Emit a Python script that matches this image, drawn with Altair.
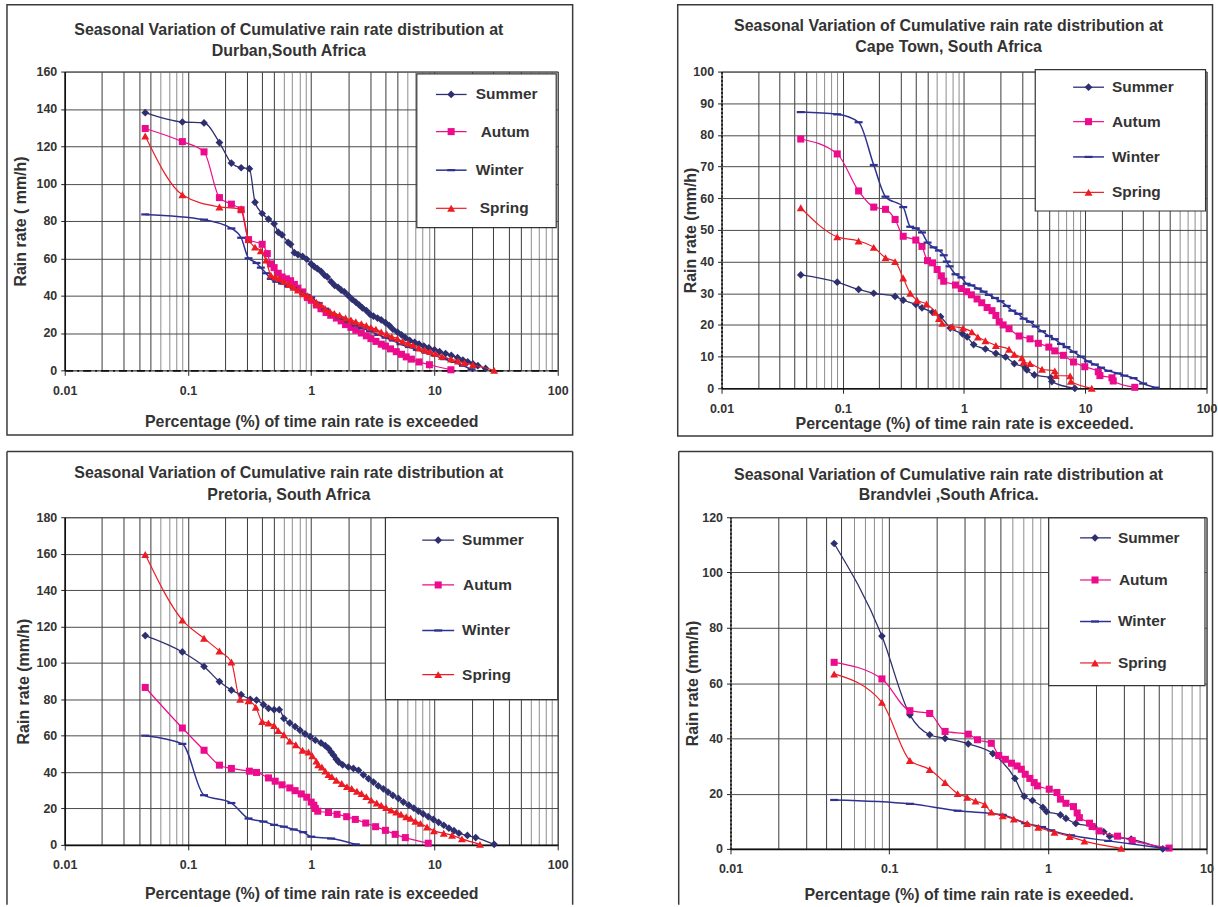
import altair as alt
import pandas as pd

FONT = "Liberation Sans"
TEXT_COLOR = "#333333"

SEASONS = ["Summer", "Autum", "Winter", "Spring"]
COLORS = ["#2E2F6E", "#EC0B8D", "#2E3192", "#ED1C24"]
WINTER_DASH = "M-1,-0.28H1V0.28H-1Z"
SHAPES = ["diamond", "square", WINTER_DASH, "triangle-up"]
SIZES = [60, 50, 64, 64]
LINE_WIDTHS = [1.3, 1.2, 1.5, 1.2]

TITLE_LINE1 = "Seasonal Variation of Cumulative rain rate distribution at"

X_GRID_4DEC = [0.01, 0.02, 0.03, 0.04, 0.05, 0.06, 0.07, 0.08, 0.09,
               0.1, 0.2, 0.3, 0.4, 0.5, 0.6, 0.7, 0.8, 0.9,
               1, 2, 3, 4, 5, 6, 7, 8, 9,
               10, 20, 30, 40, 50, 60, 70, 80, 90, 100]
X_GRID_3DEC = [0.01, 0.02, 0.03, 0.04, 0.05, 0.06, 0.07, 0.08, 0.09,
               0.1, 0.2, 0.3, 0.4, 0.5, 0.6, 0.7, 0.8, 0.9,
               1, 2, 3, 4, 5, 6, 7, 8, 9, 10]
Y_TICKS_DURBAN = [0, 20, 40, 60, 80, 100, 120, 140, 160]
Y_TICKS_CAPE = [0, 10, 20, 30, 40, 50, 60, 70, 80, 90, 100]
Y_TICKS_PRETORIA = [0, 20, 40, 60, 80, 100, 120, 140, 160, 180]
Y_TICKS_BRAND = [0, 20, 40, 60, 80, 100, 120]

# ---------------- Durban ----------------
DURBAN_SUMMER = [(0.045, 138), (0.09, 133), (0.135, 132.5), (0.18, 122), (0.225, 111), (0.27, 108.5),
                 (0.315, 108), (0.35, 90), (0.40, 84), (0.45, 81), (0.50, 78.5), (0.54, 74), (0.58, 72.5),
                 (0.65, 68.5), (0.68, 67.5), (0.73, 63), (0.78, 62), (0.85, 61), (0.92, 59.5), (1.0, 57),
                 (1.06, 55.5), (1.12, 54.5), (1.2, 53), (1.28, 51), (1.35, 50), (1.45, 47.5), (1.55, 45.5),
                 (1.65, 44.5), (1.75, 43), (1.86, 42), (2.0, 40), (2.15, 38), (2.3, 36.5), (2.45, 35),
                 (2.6, 33.5), (2.8, 32), (3.0, 30), (3.2, 29), (3.45, 28), (3.7, 27), (4.0, 25.5), (4.3, 24),
                 (4.6, 22), (5.0, 20.5), (5.4, 19), (5.8, 17.5), (6.3, 16), (6.9, 15), (7.5, 14), (8.2, 13),
                 (9.0, 12), (10, 11), (11, 10), (12.3, 9), (13.7, 8), (15.4, 6.8), (17, 5.5), (18.6, 4.6),
                 (20.5, 3.5), (22.5, 2.5), (26, 1)]
DURBAN_AUTUM = [(0.045, 129.5), (0.09, 122.5), (0.135, 117), (0.18, 92.5), (0.225, 89), (0.27, 86),
                (0.31, 70), (0.40, 67.5), (0.44, 62.5), (0.47, 57), (0.50, 55), (0.54, 52), (0.58, 50),
                (0.63, 49), (0.68, 48), (0.73, 46), (0.78, 44), (0.85, 42), (0.93, 39), (1.0, 37.5),
                (1.1, 35), (1.2, 33), (1.32, 31), (1.44, 29.5), (1.6, 28), (1.75, 26.5), (1.9, 24.5),
                (2.1, 23), (2.3, 21.5), (2.55, 20), (2.8, 18.5), (3.05, 17), (3.35, 15.5), (3.7, 14),
                (4.0, 13), (4.4, 11.5), (4.9, 10), (5.4, 8.6), (5.9, 7.2), (6.5, 6), (7.5, 4.5),
                (9.1, 3), (13.6, 0.3)]
DURBAN_WINTER = [(0.045, 83.5), (0.135, 80.7), (0.225, 76), (0.27, 71), (0.31, 60), (0.36, 57.5),
                 (0.39, 55), (0.43, 52), (0.47, 49), (0.52, 47.5), (0.58, 46.5), (0.65, 45), (0.72, 44),
                 (0.8, 42), (0.9, 40.5), (1.0, 39), (1.15, 36), (1.3, 33), (1.5, 30), (1.7, 28), (2.0, 26),
                 (2.3, 24), (2.6, 22.5), (3.0, 21), (3.5, 19), (4.0, 17.5), (4.6, 16), (5.3, 14),
                 (6.2, 12.5), (7.2, 11), (8.5, 9.5), (10, 8), (12, 6), (14.5, 4.5), (17, 2.5), (20, 0.5)]
DURBAN_SPRING = [(0.045, 125.5), (0.09, 94), (0.18, 87.5), (0.27, 86.5), (0.31, 70), (0.35, 66),
                 (0.39, 64), (0.43, 59), (0.47, 51), (0.51, 50), (0.55, 49), (0.6, 47.5), (0.66, 46),
                 (0.72, 44.5), (0.78, 43), (0.86, 41), (0.93, 40), (1.0, 38.7), (1.1, 36.5), (1.2, 35),
                 (1.3, 33), (1.42, 31.5), (1.54, 30.5), (1.7, 29.5), (1.9, 28), (2.1, 27), (2.3, 26),
                 (2.55, 25), (2.8, 24), (3.05, 23), (3.35, 22), (3.7, 20.5), (4.1, 19.5), (4.5, 18),
                 (5.0, 17), (5.5, 15.5), (6.1, 14.5), (6.7, 13.5), (7.5, 12), (8.3, 11), (9.2, 10),
                 (10.2, 9), (11.5, 7.5), (13.6, 6), (15.5, 5), (17.5, 4), (20.5, 3), (30.5, 0)]

# ---------------- Cape Town ----------------
CAPE_SUMMER = [(0.045, 35.8), (0.09, 33.5), (0.135, 31.2), (0.18, 30), (0.27, 29), (0.315, 27.8),
               (0.4, 26.5), (0.45, 25.4), (0.55, 24), (0.64, 22.6), (0.77, 19), (0.97, 17.2),
               (1.06, 16.2), (1.2, 13.8), (1.5, 12.4), (1.83, 11), (2.2, 9.9), (2.6, 7.8), (3.2, 6.5),
               (3.3, 5.8), (3.8, 4.2), (5.2, 3.3), (5.3, 2.1), (8.2, 0)]
CAPE_AUTUM = [(0.045, 78.7), (0.09, 74), (0.135, 62.3), (0.18, 57.2), (0.225, 56.5), (0.27, 53.3),
              (0.315, 48), (0.4, 46.8), (0.45, 44.8), (0.5, 40.3), (0.55, 39.6), (0.6, 37.5), (0.65, 35.5),
              (0.68, 33.8), (0.85, 32.6), (0.95, 31.5), (1.05, 30.5), (1.15, 29.5), (1.28, 28.2),
              (1.4, 27), (1.55, 25.5), (1.7, 24.5), (1.83, 23), (1.95, 21), (2.1, 20), (2.35, 18.8),
              (2.85, 16.5), (3.5, 15.6), (4.1, 14.2), (5.0, 13), (5.6, 11.8), (6.6, 10.4), (8.0, 8.3),
              (9.9, 6.8), (12.8, 5.2), (13.2, 4), (16.6, 3.3), (17, 2.3), (25.6, 0.3)]
CAPE_WINTER = [(0.045, 87.2), (0.09, 86.5), (0.135, 84), (0.18, 70.5), (0.225, 60.5), (0.315, 57.2),
               (0.36, 51), (0.4, 50.5), (0.45, 49.2), (0.5, 46), (0.56, 44.5), (0.62, 43.5), (0.68, 42),
               (0.72, 40), (0.76, 38.5), (0.85, 36), (0.95, 35), (1.05, 33), (1.15, 32.5), (1.3, 31.5),
               (1.45, 30.5), (1.6, 29.5), (1.8, 28.5), (2.0, 27.5), (2.25, 26), (2.5, 24.5), (2.8, 23.5),
               (3.1, 22), (3.5, 21), (3.9, 19.5), (4.4, 18), (5.0, 16.5), (5.6, 15.5), (6.3, 14),
               (7.0, 13), (8.0, 11.5), (9.2, 10), (10.5, 8.5), (12, 7.5), (13.5, 6.5), (15.5, 5.5),
               (18.5, 4.7), (21, 4), (25, 3.2), (30, 1.5), (38, 0.2)]
CAPE_SPRING = [(0.045, 57), (0.09, 47.8), (0.135, 46.5), (0.18, 44.5), (0.225, 41.2), (0.27, 40),
               (0.315, 34.8), (0.36, 30), (0.41, 27.8), (0.49, 26.6), (0.58, 24), (0.62, 22), (0.66, 20.5),
               (0.8, 19.5), (0.98, 19), (1.16, 17.8), (1.3, 16.2), (1.5, 15), (1.83, 13.5), (2.35, 12.3),
               (2.6, 10.7), (3.0, 9.6), (3.1, 8.3), (3.5, 7.8), (4.4, 6), (5.6, 5.5), (5.7, 4), (7.5, 3.9),
               (7.6, 2.2), (11.3, 0)]

# ---------------- Pretoria ----------------
PRETORIA_SUMMER = [(0.045, 115), (0.09, 106), (0.135, 98), (0.18, 89.7), (0.225, 85), (0.27, 82.5),
                   (0.32, 80), (0.36, 79.5), (0.41, 77), (0.45, 75), (0.5, 74.3), (0.55, 74.3), (0.6, 69.5),
                   (0.67, 67), (0.74, 65), (0.81, 63), (0.89, 61), (0.98, 59.5), (1.08, 57.5), (1.2, 56),
                   (1.3, 54.5), (1.38, 53), (1.45, 51), (1.52, 49.2), (1.6, 47), (1.67, 45.5), (1.8, 44),
                   (2.0, 42.8), (2.2, 42), (2.42, 41), (2.65, 38.5), (2.92, 36.4), (3.2, 34.5), (3.5, 32.4),
                   (3.85, 30.8), (4.2, 29), (4.6, 27.2), (5.1, 25.5), (5.6, 23.5), (6.2, 21.8), (6.8, 20.2),
                   (7.4, 18.6), (8.1, 17), (8.9, 15.5), (9.8, 14), (10.8, 12.4), (11.9, 10.8), (13.1, 9.2),
                   (14.4, 7.8), (15.8, 6.4), (18.5, 5.2), (21.6, 4), (30.5, 0.3)]
PRETORIA_AUTUM = [(0.045, 86.5), (0.09, 64.2), (0.135, 52), (0.18, 43.8), (0.225, 42), (0.315, 40.5),
                  (0.36, 39.8), (0.45, 36.8), (0.51, 35), (0.58, 33), (0.67, 31.3), (0.74, 29.8), (0.83, 28),
                  (0.92, 26.2), (1.0, 23.5), (1.05, 21.8), (1.08, 20), (1.13, 18.5), (1.38, 17.8),
                  (1.62, 16.8), (1.94, 15.5), (2.28, 14), (2.77, 12), (3.33, 10), (4.0, 8), (4.8, 5.8),
                  (5.8, 4), (8.9, 0.9)]
PRETORIA_WINTER = [(0.045, 60), (0.09, 55.5), (0.135, 27.3), (0.225, 23), (0.31, 14.5), (0.41, 12.8),
                   (0.5, 11), (0.6, 10), (0.72, 8.5), (0.86, 7), (1.0, 4.5), (1.45, 3.5), (2.3, 0.3)]
PRETORIA_SPRING = [(0.045, 159.5), (0.09, 123.5), (0.135, 113.5), (0.18, 106.5), (0.225, 100.5),
                   (0.265, 80), (0.31, 79.2), (0.355, 75.6), (0.4, 67.8), (0.45, 67), (0.5, 65.5),
                   (0.54, 62.8), (0.6, 60.5), (0.67, 57), (0.75, 55), (0.85, 52), (0.95, 51), (1.02, 49),
                   (1.1, 46), (1.14, 44), (1.22, 42.8), (1.3, 40.5), (1.38, 38.6), (1.47, 37.5), (1.6, 35.5),
                   (1.77, 33.7), (1.95, 32), (2.13, 31), (2.35, 29.5), (2.56, 28.2), (2.8, 26.5),
                   (3.07, 24.6), (3.4, 23), (3.7, 21.8), (4.05, 20.5), (4.45, 19.1), (4.9, 18), (5.35, 16.8),
                   (5.9, 15.5), (6.4, 14.6), (7.0, 13), (7.7, 11.8), (8.7, 9.8), (9.9, 7.7), (11.9, 6.4),
                   (13.9, 5.3), (16.7, 3.3), (23.4, 0.3)]

# ---------------- Brandvlei ----------------
BRAND_SUMMER = [(0.045, 110.5), (0.09, 77), (0.135, 48.5), (0.18, 41.3), (0.225, 40), (0.315, 38),
                (0.45, 34.5), (0.62, 25.5), (0.71, 19), (0.8, 17.5), (0.93, 15), (0.98, 13.5), (1.2, 12.3),
                (1.3, 11), (1.5, 9.2), (1.95, 8), (2.25, 6.2), (2.45, 4.6), (3.35, 3.5), (5.3, 0)]
BRAND_AUTUM = [(0.045, 67.5), (0.09, 61.5), (0.135, 50), (0.18, 49), (0.225, 42.5), (0.315, 41.5),
               (0.36, 39.5), (0.44, 38.2), (0.49, 33.8), (0.54, 32.4), (0.59, 31), (0.64, 30), (0.68, 28.8),
               (0.72, 27), (0.77, 25.5), (0.82, 24), (0.86, 22.8), (1.02, 21.6), (1.14, 20.4), (1.2, 18),
               (1.3, 16.5), (1.45, 15.3), (1.53, 13), (1.58, 11.3), (1.83, 9.3), (1.9, 8.1), (2.1, 6.5),
               (2.75, 4.6), (3.4, 3), (5.8, 0.3)]
BRAND_WINTER = [(0.045, 17.7), (0.135, 16.3), (0.27, 13.8), (0.52, 12.3), (0.72, 9.3), (0.92, 7.9),
                (1.05, 6.7), (1.4, 4.9), (2.4, 2.9), (5.5, 0.1)]
BRAND_SPRING = [(0.045, 63.3), (0.09, 53), (0.135, 32), (0.18, 28.7), (0.225, 24), (0.27, 20),
                (0.31, 18.7), (0.35, 17.3), (0.4, 16), (0.44, 13.3), (0.52, 12), (0.61, 10.8), (0.74, 9.2),
                (0.87, 7.8), (1.1, 6), (1.37, 4.5), (1.7, 2.8), (2.9, 0.2)]

DECADE_TEST = "abs(log(datum.value)/LN10 - round(log(datum.value)/LN10)) < 0.001"
LIGHT_TEST = "datum.value / pow(10, floor(log(datum.value)/LN10 + 0.000001)) > 5.5"

ONE = pd.DataFrame({"k": [0]})


def text_mark(txt, x, y, size, align="center"):
    return alt.Chart(ONE).mark_text(align=align, baseline="middle", font=FONT, fontSize=size,
                                    fontWeight="bold", color=TEXT_COLOR).encode(
        x=alt.value(x), y=alt.value(y), text=alt.value(txt))


def panel(series, xgrid, xmax, yticks, ymax, width, height, line2, title_pos,
          xtitle, xtitle_pad, ytitle, ytitle_pad, xdash, ydash, legend, frame, closed):
    x_axis = dict(values=xgrid, format="~g", labelExpr=f"({DECADE_TEST}) ? datum.label : ''",
                  labelOverlap=False, labelFlush=False, grid=True,
                  gridColor={"condition": {"test": LIGHT_TEST, "value": "#8c8c8c"}, "value": "#3a3a3a"},
                  gridWidth=1, tickSize=5, tickColor="#222222",
                  tickOpacity={"condition": {"test": DECADE_TEST, "value": 1}, "value": 0},
                  domainColor="#111111", domainWidth=1.6, labelPadding=9,
                  title=xtitle, titlePadding=xtitle_pad)
    if xdash:
        x_axis["domainDash"] = xdash
    y_axis = dict(values=yticks, grid=True, gridColor="#4a4a4a", gridWidth=1, tickSize=4,
                  tickColor="#222222", domainColor="#111111", domainWidth=1.6, labelPadding=4,
                  labelFlush=False, title=ytitle, titlePadding=ytitle_pad)
    if ydash:
        y_axis["domainDash"] = ydash
    x_enc = alt.X("p:Q", scale=alt.Scale(type="log", domain=[0.01, xmax]), axis=alt.Axis(**x_axis))
    y_enc = alt.Y("r:Q", scale=alt.Scale(domain=[0, ymax]), axis=alt.Axis(**y_axis))

    layers = []
    for name, color, shape, size, sw in zip(SEASONS, COLORS, SHAPES, SIZES, LINE_WIDTHS):
        df = pd.DataFrame(series[name], columns=["p", "r"])
        base = alt.Chart(df)
        layers.append(base.mark_line(interpolate="monotone", color=color, strokeWidth=sw)
                      .encode(x=x_enc, y=y_enc))
        layers.append(base.mark_point(shape=shape, filled=True, size=size, color=color, opacity=1)
                      .encode(x=x_enc, y=y_enc))

    bx0, bx1, by0, by1, s0, s1, mk, txs, rows = legend
    layers.append(alt.Chart(ONE).mark_rect(fill="white", stroke="#333333", strokeWidth=1.2)
                  .encode(x=alt.value(bx0), x2=alt.value(bx1), y=alt.value(by0), y2=alt.value(by1)))
    for name, color, shape, size, sw, tx, yy in zip(SEASONS, COLORS, SHAPES, SIZES, LINE_WIDTHS, txs, rows):
        layers.append(alt.Chart(ONE).mark_rule(color=color, strokeWidth=sw)
                      .encode(x=alt.value(s0), x2=alt.value(s1), y=alt.value(yy)))
        layers.append(alt.Chart(ONE).mark_point(shape=shape, filled=True, size=size, color=color, opacity=1)
                      .encode(x=alt.value(mk), y=alt.value(yy)))
        layers.append(text_mark(name, tx, yy, 15.5, align="left"))

    # two-line panel title, drawn inside the frame
    tx, ty1, ty2 = title_pos
    layers.append(text_mark(TITLE_LINE1, tx, ty1, 16))
    layers.append(text_mark(line2, tx, ty2, 16))

    fx0, fx1, fy0, fy1 = frame
    if closed:
        layers.append(alt.Chart(ONE).mark_rect(fillOpacity=0, stroke="#3a3a3a", strokeWidth=1.5)
                      .encode(x=alt.value(fx0), x2=alt.value(fx1), y=alt.value(fy0), y2=alt.value(fy1)))
    else:
        layers.append(alt.Chart(ONE).mark_rule(color="#3a3a3a", strokeWidth=1.5)
                      .encode(x=alt.value(fx0), y=alt.value(fy0), y2=alt.value(fy1)))
        layers.append(alt.Chart(ONE).mark_rule(color="#3a3a3a", strokeWidth=1.5)
                      .encode(x=alt.value(fx1), y=alt.value(fy0), y2=alt.value(fy1)))
        layers.append(alt.Chart(ONE).mark_rule(color="#3a3a3a", strokeWidth=1.5)
                      .encode(x=alt.value(fx0), x2=alt.value(fx1), y=alt.value(fy0)))

    return alt.layer(*layers).properties(width=width, height=height)


durban = panel({"Summer": DURBAN_SUMMER, "Autum": DURBAN_AUTUM, "Winter": DURBAN_WINTER, "Spring": DURBAN_SPRING},
               X_GRID_4DEC, 100, Y_TICKS_DURBAN, 160, 495, 300, "Durban,South Africa", (225, -42, -20.5),
               "Percentage (%) of time rain rate is exceeded", 17, "Rain rate ( mm/h)", 8,
               [8, 4, 2, 4], None,
               (353.5, 493.5, 2.3, 156.7, 372.7, 403.5, 388, [412.7, 417.7, 412.7, 416.7], [23, 60.3, 99, 137.3]),
               (-58, 510, -67, 365), True)

cape = panel({"Summer": CAPE_SUMMER, "Autum": CAPE_AUTUM, "Winter": CAPE_WINTER, "Spring": CAPE_SPRING},
             X_GRID_4DEC, 100, Y_TICKS_CAPE, 100, 487, 318, "Cape Town, South Africa", (228, -45.3, -24.7),
             "Percentage (%) of time rain rate is exceeded.", 1, "Rain rate (mm/h)", -6,
             None, [2, 2],
             (315, 486, -2, 140, 353, 384, 368.5, [392, 392, 392, 392], [15.7, 50.3, 85.7, 121.3]),
             (-44, 493, -67, 366), True)

pretoria = panel({"Summer": PRETORIA_SUMMER, "Autum": PRETORIA_AUTUM, "Winter": PRETORIA_WINTER, "Spring": PRETORIA_SPRING},
                 X_GRID_4DEC, 100, Y_TICKS_PRETORIA, 180, 495, 329, "Pretoria, South Africa", (225, -44.7, -22.7),
                 "Percentage (%) of time rain rate is exceeded", 14, "Rain rate (mm/h)", 5,
                 None, None,
                 (322, 495, 0.3, 183, 359, 391, 375, [399, 400, 399, 399], [23, 68, 113.7, 158]),
                 (-58, 510, -66, 389), False)

brand = panel({"Summer": BRAND_SUMMER, "Autum": BRAND_AUTUM, "Winter": BRAND_WINTER, "Spring": BRAND_SPRING},
              X_GRID_3DEC, 10, Y_TICKS_BRAND, 120, 478, 333, "Brandvlei ,South Africa.", (219, -42.7, -22),
              "Percentage (%) of time rain rate is exeeded.", 11, "Rain rate (mm/h)", 1,
              None, [2, 2],
              (319.5, 476.4, 0.7, 169, 351, 382, 366, [389, 390, 389, 389], [20.7, 63, 104.7, 146.3]),
              (-52, 484, -66, 389), False)

row1 = alt.hconcat(durban, cape, spacing=101.5)
row2 = alt.hconcat(pretoria, brand, spacing=102.5)

chart = alt.vconcat(row1, row2, spacing=11.5).properties(
    padding={"left": 5, "top": 1, "right": 0, "bottom": 0},
    background="white",
).configure_view(
    stroke="#555555", strokeWidth=1
).configure_axis(
    labelFont=FONT, labelFontSize=12.5, labelFontWeight="bold", labelColor=TEXT_COLOR,
    titleFont=FONT, titleFontSize=16, titleFontWeight="bold", titleColor=TEXT_COLOR,
)

chart.save("out.html", embed_options={"renderer": "svg", "actions": False})
